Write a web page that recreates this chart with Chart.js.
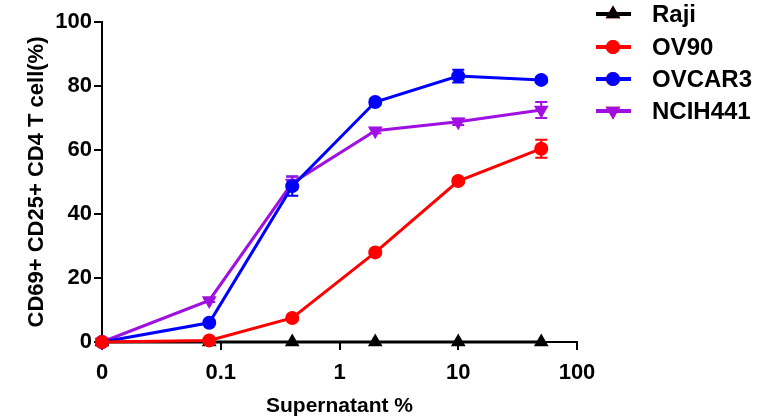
<!DOCTYPE html>
<html>
<head>
<meta charset="utf-8">
<script src="https://cdn.jsdelivr.net/npm/chart.js@4/dist/chart.umd.min.js"></script>
<style>
  html, body { margin: 0; padding: 0; background: #fff; }
  #wrap { width: 783px; height: 419px; }
</style>
</head>
<body>
<div id="wrap"><canvas id="chart" width="783" height="419"></canvas></div>
<script>
/* Supernatant dilution (%); 0 sits at the 0.01 slot of the log axis */
const doses = [0, 0.08, 0.4, 2, 10, 50];
const ZERO_AT = 0.01;
const xTicks = [0.01, 0.1, 1, 10, 100];
const xTickText = ["0", "0.1", "1", "10", "100"];

const seriesNames = ["Raji", "OV90", "OVCAR3", "NCIH441"];
const raji    = [0, 0, 0, 0, 0, 0];
const ov90    = [0, 0.5, 7.5, 28, 50.3, 60.4];
const ovcar3  = [0, 6, 48.7, 75, 83.1, 81.9];
const ncih441 = [0, 13, 49.7, 66, 68.8, 72.5];

const rajiErr    = [0, 0, 0, 0, 0, 0];
const ov90Err    = [0, 0.2, 0.5, 0.8, 0.8, 2.8];
const ovcar3Err  = [0, 0.5, 3, 0.8, 2, 0.8];
const ncih441Err = [0, 0.5, 2, 0.8, 1, 2.5];

const colors = ["#000000", "#ff0000", "#0000ff", "#a010e0"];

const FONT = "'Liberation Sans', Arial, sans-serif";

function pts(vals) {
  return vals.map((v, i) => ({ x: doses[i] === 0 ? ZERO_AT : doses[i], y: v }));
}

function series(i, vals, errs, style, rot, radius, order) {
  return {
    label: seriesNames[i],
    data: pts(vals),
    errors: errs,
    order,
    borderColor: colors[i],
    backgroundColor: colors[i],
    borderWidth: 3,
    pointStyle: style,
    pointRotation: rot,
    pointRadius: radius,
    pointHoverRadius: radius,
    pointBorderWidth: 0,
    tension: 0,
    clip: false
  };
}

/* error bars, drawn under the markers */
const errorBars = {
  id: "errorBars",
  beforeDatasetsDraw(chart) {
    const { ctx, scales: { x, y } } = chart;
    chart.data.datasets.forEach((ds) => {
      ctx.save();
      ctx.strokeStyle = ds.borderColor;
      ctx.lineWidth = 2;
      ds.data.forEach((p, i) => {
        const e = ds.errors[i];
        if (!e) return;
        const px = x.getPixelForValue(p.x);
        const top = y.getPixelForValue(p.y + e);
        const bot = y.getPixelForValue(p.y - e);
        ctx.beginPath();
        ctx.moveTo(px, top); ctx.lineTo(px, bot);
        ctx.moveTo(px - 6, top); ctx.lineTo(px + 6, top);
        ctx.moveTo(px - 6, bot); ctx.lineTo(px + 6, bot);
        ctx.stroke();
      });
      ctx.restore();
    });
  }
};

/* legend in the right margin: line segment, marker, bold label */
const sideLegend = {
  id: "sideLegend",
  afterDraw(chart) {
    const { ctx } = chart;
    const rowY = [14, 47, 79, 111];
    chart.data.datasets.forEach((ds, i) => {
      const yy = rowY[i];
      ctx.save();
      ctx.strokeStyle = ds.borderColor;
      ctx.lineWidth = 4;
      ctx.beginPath();
      ctx.moveTo(596, yy); ctx.lineTo(631, yy);
      ctx.stroke();
      Chart.helpers.drawPoint(ctx, {
        pointStyle: ds.pointStyle,
        rotation: ds.pointRotation,
        radius: ds.pointRadius,
        borderWidth: 0
      }, 613, yy);
      ctx.fillStyle = ds.borderColor;
      ctx.fill();
      ctx.fillStyle = "#000";
      ctx.font = "bold 24px " + FONT;
      ctx.textBaseline = "middle";
      ctx.fillText(ds.label, 652, yy + 1);
      ctx.restore();
    });
  }
};

new Chart(document.getElementById("chart"), {
  type: "line",
  data: {
    datasets: [
      series(0, raji, rajiErr, "triangle", 0, 8.5, 1),
      series(1, ov90, ov90Err, "circle", 0, 7, 0),
      series(2, ovcar3, ovcar3Err, "circle", 0, 7, 2),
      series(3, ncih441, ncih441Err, "triangle", 180, 8.5, 3)
    ]
  },
  options: {
    responsive: false,
    animation: false,
    events: [],
    layout: { padding: { top: 22, right: 206, left: 0, bottom: 0 } },
    plugins: { legend: { display: false }, tooltip: { enabled: false } },
    scales: {
      x: {
        type: "logarithmic",
        min: ZERO_AT,
        max: 100,
        afterBuildTicks(scale) { scale.ticks = xTicks.map(v => ({ value: v })); },
        afterFit(scale) { scale.height = 77; },
        ticks: {
          autoSkip: false,
          maxRotation: 0,
          color: "#000",
          padding: 10,
          font: { family: FONT, size: 22, weight: "bold" },
          callback(v) { const k = xTicks.indexOf(v); return k >= 0 ? xTickText[k] : ""; }
        },
        grid: { drawOnChartArea: false, color: "#000", lineWidth: 2, tickLength: 8 },
        border: { color: "#000", width: 2 },
        title: {
          display: true,
          text: "Supernatant %",
          color: "#000",
          padding: { top: 0, bottom: 0 },
          font: { family: FONT, size: 21, weight: "bold" }
        }
      },
      y: {
        min: 0,
        max: 100,
        afterFit(scale) { scale.width = 102; },
        ticks: {
          stepSize: 20,
          color: "#000",
          padding: 2,
          font: { family: FONT, size: 22, weight: "bold" }
        },
        grid: { drawOnChartArea: false, color: "#000", lineWidth: 2, tickLength: 8 },
        border: { color: "#000", width: 2 },
        title: {
          display: true,
          text: "CD69+ CD25+ CD4 T cell(%)",
          color: "#000",
          padding: { top: 24, bottom: 0 },
          font: { family: FONT, size: 22, weight: "bold" }
        }
      }
    }
  },
  plugins: [errorBars, sideLegend]
});
</script>
</body>
</html>
